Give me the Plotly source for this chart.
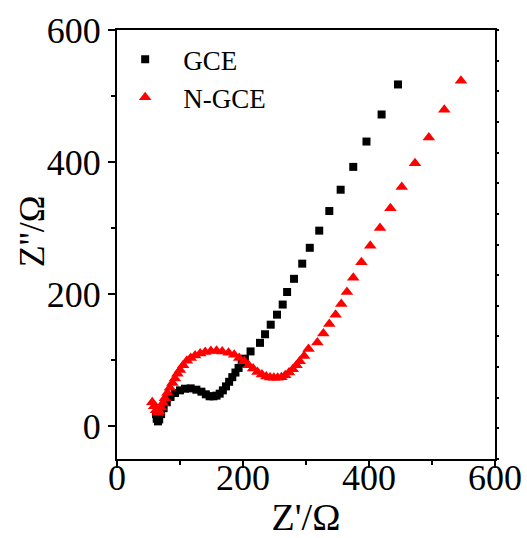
import plotly.graph_objects as go

# GCE (black squares)
gce_x = [62, 63, 65, 67, 70, 74, 79, 85, 92, 100, 108, 117, 126, 134, 141, 147, 153, 158,
         163, 168, 173, 178, 183, 188, 193, 198, 203, 212, 227, 235, 244, 254, 263, 270,
         281, 294, 306, 321, 337, 355, 375, 396, 420, 446]
gce_y = [18, 11, 7, 10, 18, 27, 36, 44, 50, 54, 56.5, 57, 55, 52, 48, 45, 45, 46,
         49, 54, 60, 67, 74, 81, 88, 95, 102, 113, 126, 139, 153.5, 168.7, 184, 203,
         223, 246, 270, 296, 325.7, 358, 392.6, 431, 472, 517.5]

# N-GCE (red triangles)
ngce_x = [56, 59, 62, 65, 67, 70, 73, 76, 80, 84, 88, 92, 96, 100, 105, 111, 117, 124,
          132, 140, 149, 158, 167, 177, 186, 194, 202, 209, 216, 223, 230, 237, 243, 249,
          255, 261, 267, 273, 279, 285, 290, 297, 304, 318, 327.5, 337, 347, 356, 365,
          375, 388, 402, 417.5, 434, 452, 473, 495, 519.5, 546]
ngce_y = [36, 30, 24, 20, 22, 28, 35, 42, 50, 58, 65, 72, 79, 85, 92, 99, 103, 107,
          110, 112, 113.5, 114, 113, 111, 108, 103, 98, 92, 87, 82, 78, 75, 73.5, 73,
          73, 74, 77, 81, 86, 92, 98, 106, 116.5, 126.6, 140, 154.5, 168.7, 185, 203,
          224.5, 248, 273, 300, 330, 362, 398, 437, 479, 523]

x_title = "Z'/Ω"
y_title = "Z''/Ω"

FONT = "Liberation Serif, Times New Roman, serif"

fig = go.Figure()
fig.add_trace(go.Scatter(x=gce_x, y=gce_y, mode="markers", name="GCE",
                         marker=dict(symbol="square", size=8, color="black")))
fig.add_trace(go.Scatter(x=ngce_x, y=ngce_y, mode="markers", name="N-GCE",
                         marker=dict(symbol="triangle-up", size=11, color="red")))
# empty trace so that the right-hand tick axis is drawn
fig.add_trace(go.Scatter(x=[], y=[], yaxis="y2", showlegend=False, hoverinfo="skip"))

fig.update_layout(
    width=527, height=538,
    margin=dict(l=117, r=32, t=30, b=79),
    paper_bgcolor="white", plot_bgcolor="white",
    font=dict(family=FONT, color="black", size=36),
    showlegend=True,
    legend=dict(x=-0.026, y=0.988, xanchor="left", yanchor="top",
                bgcolor="rgba(0,0,0,0)", itemwidth=66,
                font=dict(family=FONT, size=27, color="black")),
    xaxis=dict(range=[0, 600], dtick=200, tick0=0, showgrid=False, zeroline=False,
               showline=True, linecolor="black", linewidth=2, mirror=True,
               ticks="outside", ticklen=7, tickwidth=2, tickcolor="black",
               minor=dict(dtick=100, ticklen=4, tickwidth=2, tickcolor="black", ticks="outside"),
               tickfont=dict(family=FONT, size=36), automargin=False,
               ticklabelstandoff=-21,
               title=dict(text=x_title, font=dict(family=FONT, size=38), standoff=24)),
    yaxis=dict(range=[-50, 600], dtick=200, tick0=0, showgrid=False, zeroline=False,
               showline=True, linecolor="black", linewidth=2, mirror=True,
               ticks="outside", ticklen=7, tickwidth=2, tickcolor="black",
               minor=dict(dtick=100, ticklen=4, tickwidth=2, tickcolor="black", ticks="outside"),
               tickfont=dict(family=FONT, size=36), automargin=False),
    yaxis2=dict(overlaying="y", side="right", range=[0, 14], dtick=1, tick0=0,
                showgrid=False, zeroline=False, showline=False, showticklabels=False,
                ticks="outside", ticklen=3, tickwidth=2, tickcolor="black",
                automargin=False),
    annotations=[dict(text=y_title, textangle=-90, xref="paper", yref="paper",
                      x=-0.225, y=0.531, xanchor="center", yanchor="middle",
                      showarrow=False, font=dict(family=FONT, size=36, color="black"))],
)

fig.write_html("out.html", config={"displayModeBar": False},
               post_script="document.body.style.margin='0px';document.body.style.overflow='hidden';")
